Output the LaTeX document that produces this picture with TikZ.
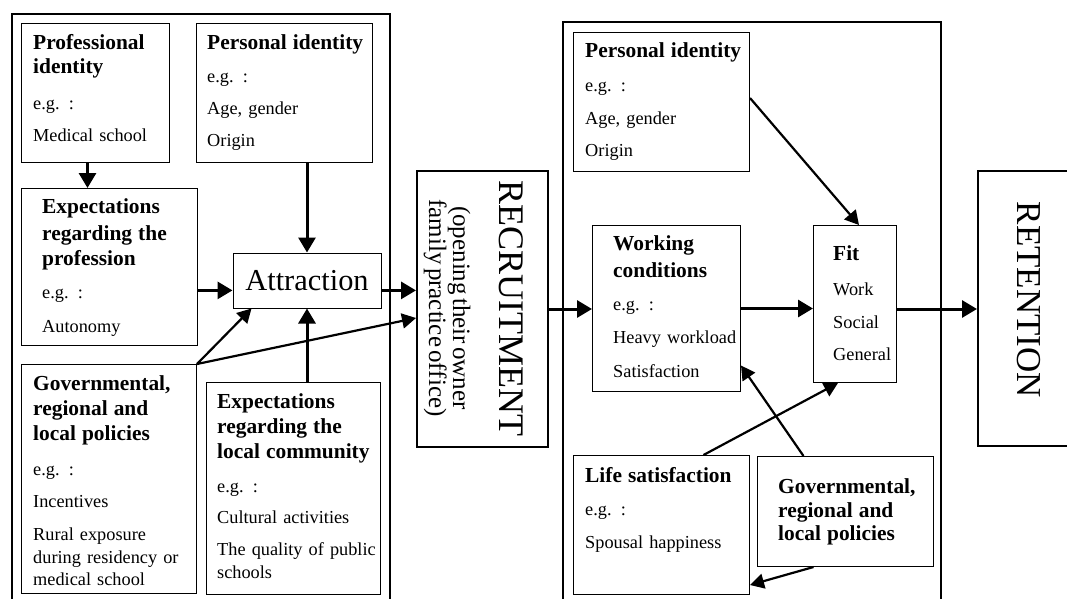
\documentclass[tikz,border=0pt]{standalone}
\usepackage{fontspec}
\setmainfont{Liberation Serif}
\usetikzlibrary{arrows.meta}
\newcommand{\hdf}{\fontsize{21.4}{22.5}\selectfont\bfseries}
\newcommand{\bdf}{\fontsize{18.3}{22.5}\selectfont\mdseries}
\tikzset{
  pnl/.style={line width=2pt},
  bx/.style={draw, line width=1pt, inner sep=0pt, anchor=north west},
  big/.style={draw, line width=2pt, inner sep=0pt, anchor=north west},
  tx/.style={anchor=base west, align=left, inner sep=0pt, font=\bdf},
  arr/.style={-{Triangle[length=15pt, width=17pt]}, line width=3pt},
  darr/.style={-{Triangle[length=14pt, width=15pt]}, line width=2.2pt},
}
\begin{document}
\begin{tikzpicture}[x=1pt, y=-1pt]
    \path[use as bounding box] (0,0) rectangle (1067,599);
    \clip (0,0) rectangle (1067,599);
    % the two frames, open at the bottom
    \draw[pnl] (11.5,14) rectangle (390,610);
    \draw[pnl] (563,22) rectangle (941,610);
    % factor boxes: name/x/y/width/height/text dx/first baseline/text
    \foreach \nm/\px/\py/\w/\h/\dx/\dy/\cnt in {
      prof/21/23/148/139/12/27/{\hdf Professional\\[1.5pt] identity\\[13.5pt]\bdf e.g. :\\[9.5pt] Medical school},
      pers/196/23/176/139/11/27/{\hdf Personal identity\\[10.5pt]\bdf e.g. :\\[9.5pt] Age, gender\\[9.5pt] Origin},
      exp/21/188/176/157/21/25/{\hdf Expectations\\[4.5pt] regarding the\\[2.5pt] profession\\[10.5pt]\bdf e.g. :\\[11.5pt] Autonomy},
      gov/21/364/175/229/12/26/{\hdf Governmental,\\[2.5pt] regional and\\[2.5pt] local policies\\[12.5pt]\bdf e.g. :\\[9.5pt] Incentives\\[10.5pt] Rural exposure\\[0.5pt] during residency or\\ medical school},
      loc/206/382/174/212/11/26/{\hdf Expectations\\[2.5pt] regarding the\\[2.5pt] local community\\[11.5pt]\bdf e.g. :\\[8.5pt] Cultural activities\\[9.5pt] The quality of public\\[0.5pt] schools},
      pers2/573/32/176/139/12/26/{\hdf Personal identity\\[11.5pt]\bdf e.g. :\\[10.5pt] Age, gender\\[9.5pt] Origin},
      work/592/225/148/166/21/25/{\hdf Working\\[4.5pt] conditions\\[10.5pt]\bdf e.g. :\\[10.5pt] Heavy workload\\[11.5pt] Satisfaction},
      fit/813/225/83/157/20/35/{\hdf Fit\\[12.5pt]\bdf Work\\[10.5pt] Social\\[9.5pt] General},
      life/573/455/176/139/12/27/{\hdf Life satisfaction\\[10.5pt]\bdf e.g. :\\[10.5pt] Spousal happiness},
      gov2/757/456/176/110/21/37/{\hdf Governmental,\\[1.5pt] regional and\\[0.5pt] local policies}}
      { \node[bx, minimum width=\w, minimum height=\h] (\nm) at (\px,\py) {};
        \node[tx, text width=\w] (\nm-t) at ([shift={(\dx,\dy)}]\nm.north west) {\cnt}; }
    \node[draw, line width=1pt, inner sep=0pt, minimum width=148, minimum height=55, font=\fontsize{30.4}{34}\selectfont] (att) at (307,280.5) {Attraction};
    \node[big, minimum width=131, minimum height=276] (rec) at (416,170) {};
    \node[rotate=-90, anchor=base, align=center, text width=270, inner sep=0pt] (rec-t) at (499,308)
      {{\fontsize{36}{40}\selectfont RECRUITMENT}\\[21pt]\fontsize{25}{25}\selectfont (opening their owner\\ family practice office)};
    \node[big, minimum width=103, minimum height=275] (ret) at (977,170) {};
    \node[rotate=-90, inner sep=0pt, font=\fontsize{35}{40}\selectfont] (ret-t) at (1028.5,300) {RETENTION};
    % connectors
    \draw[arr] ([xshift=-8pt]prof.south) -- ([xshift=-8pt]prof.south |- exp.north);
    \draw[arr] (att.center |- pers.south) -- (att.north);
    \draw[arr] (exp.east |- att.base) -- (att.base west);
    \draw[arr] (att.base east) -- (att.base -| rec.west);
    \draw[arr] (att.center |- loc.north) -- (att.south);
    \draw[darr] (gov.north east) -- ([xshift=19pt]att.south west);
    \draw[darr] (gov.north east) -- ([yshift=-9pt]rec.west);
    \draw[arr] (rec.east) -- (rec.east -| work.west);
    \draw[arr] (work.east) -- (work.east -| fit.west);
    \draw[arr] (fit.east |- rec.east) -- (rec.east -| ret.west);
    \draw[darr] ([yshift=4pt]pers2.east) -- ([xshift=4pt]fit.north);
    \draw[darr] ([xshift=42pt]life.north) -- ([xshift=-17pt]fit.south);
    \draw[darr] ([xshift=-42pt]gov2.north) -- ([yshift=-57pt]work.east);
    \draw[darr] ([xshift=-32pt]gov2.south) -- ([yshift=-60pt]life.east);
  \end{tikzpicture}
\end{document}
